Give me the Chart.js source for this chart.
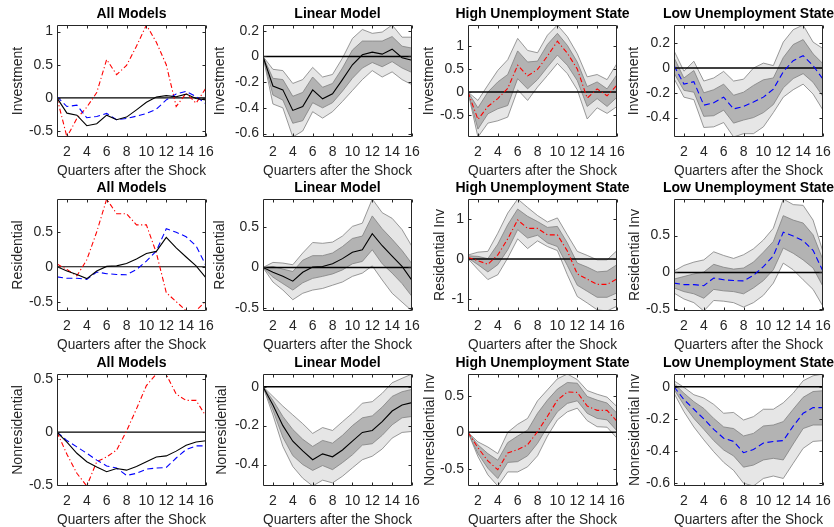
<!DOCTYPE html>
<html>
<head>
<meta charset="utf-8">
<script src="https://cdn.jsdelivr.net/npm/chart.js@4.4.0/dist/chart.umd.min.js"></script>
<style>
  html, body { margin: 0; padding: 0; background: #fff; }
  #fig { position: relative; width: 834px; height: 527px; overflow: hidden; background: #fff; }
  #fig canvas { position: absolute; }
</style>
</head>
<body>
<div id="fig"></div>
<script>
const quarters = [1, 2, 3, 4, 5, 6, 7, 8, 9, 10, 11, 12, 13, 14, 15, 16];
const xTicks = [2, 4, 6, 8, 10, 12, 14, 16];

// Investment
const invLin     = [0, -0.23, -0.26, -0.42, -0.39, -0.26, -0.33, -0.29, -0.18, -0.065, 0.013, 0.034, 0.018, 0.057, -0.01, -0.03];
const invLinUp90 = [0, -0.10, -0.11, -0.21, -0.18, -0.085, -0.16, -0.14, -0.013, 0.14, 0.21, 0.18, 0.19, 0.245, 0.15, 0.15];
const invLinUp68 = [0, -0.17, -0.18, -0.31, -0.28, -0.16, -0.24, -0.21, -0.09, 0.05, 0.12, 0.12, 0.12, 0.155, 0.08, 0.065];
const invLinLo68 = [0, -0.30, -0.34, -0.52, -0.50, -0.36, -0.40, -0.36, -0.27, -0.17, -0.09, -0.047, -0.08, -0.04, -0.09, -0.125];
const invLinLo90 = [0, -0.37, -0.40, -0.627, -0.58, -0.43, -0.48, -0.43, -0.35, -0.265, -0.18, -0.11, -0.16, -0.12, -0.18, -0.22];

const invHigh     = [0, -0.59, -0.31, -0.14, 0.08, 0.58, 0.35, 0.49, 0.78, 1.1, 0.84, 0.50, -0.13, 0.07, -0.08, 0.15];
const invHighUp90 = [0, -0.18, 0.15, 0.47, 0.7, 1.16, 0.9, 0.85, 1.23, 1.45, 1.2, 0.83, 0.33, 0.38, 0.27, 0.62];
const invHighUp68 = [0, -0.34, 0.0, 0.22, 0.38, 0.89, 0.65, 0.67, 1.03, 1.27, 1.01, 0.65, 0.12, 0.22, 0.07, 0.38];
const invHighLo68 = [0, -0.8, -0.47, -0.36, -0.29, 0.29, 0.07, 0.27, 0.54, 0.8, 0.58, 0.25, -0.31, -0.14, -0.31, -0.11];
const invHighLo90 = [0, -0.97, -0.67, -0.62, -0.54, 0.05, -0.18, 0.11, 0.36, 0.62, 0.4, 0.05, -0.58, -0.34, -0.46, -0.31];

const invLow     = [0.02, -0.13, -0.11, -0.30, -0.28, -0.235, -0.33, -0.31, -0.275, -0.235, -0.17, -0.03, 0.06, 0.10, 0.02, -0.09];
const invLowUp90 = [0.14, -0.025, 0.055, -0.105, -0.08, -0.027, -0.105, -0.09, 0, 0.04, 0.02, 0.21, 0.31, 0.348, 0.21, 0.157];
const invLowUp68 = [0.085, -0.08, -0.02, -0.2, -0.175, -0.13, -0.22, -0.195, -0.14, -0.095, -0.08, 0.085, 0.19, 0.23, 0.115, 0.035];
const invLowLo68 = [-0.04, -0.18, -0.195, -0.39, -0.385, -0.34, -0.445, -0.42, -0.4, -0.36, -0.295, -0.16, -0.085, -0.045, -0.115, -0.23];
const invLowLo90 = [-0.085, -0.235, -0.255, -0.48, -0.475, -0.44, -0.557, -0.53, -0.53, -0.475, -0.36, -0.235, -0.175, -0.13, -0.21, -0.34];

// Residential
const resLin     = [0, -0.06, -0.11, -0.17, -0.06, 0.005, 0.013, 0.046, 0.11, 0.19, 0.22, 0.42, 0.27, 0.14, 0.013, -0.16];
const resLinUp90 = [0, 0.063, 0.055, 0.034, 0.18, 0.31, 0.3, 0.315, 0.39, 0.51, 0.55, 0.85, 0.68, 0.61, 0.47, 0.26];
const resLinUp68 = [0, 0.013, -0.02, -0.05, 0.09, 0.147, 0.147, 0.18, 0.26, 0.36, 0.39, 0.64, 0.48, 0.35, 0.21, 0.046];
const resLinLo68 = [0, -0.12, -0.2, -0.28, -0.19, -0.135, -0.11, -0.08, -0.03, 0.046, 0.075, 0.22, 0.046, -0.07, -0.2, -0.36];
const resLinLo90 = [0, -0.18, -0.28, -0.4, -0.32, -0.28, -0.26, -0.22, -0.18, -0.11, -0.07, 0.02, -0.155, -0.32, -0.43, -0.54];

const resHigh     = [0.04, -0.04, -0.13, 0.1, 0.5, 0.97, 0.76, 0.76, 0.6, 0.6, 0.2, -0.37, -0.5, -0.63, -0.63, -0.49];
const resHighUp90 = [0.1, 0.17, 0.19, 0.64, 1.14, 1.49, 1.28, 1.08, 0.92, 1.02, 0.6, 0.19, 0.09, -0.02, -0.02, 0.21];
const resHighUp68 = [0.08, 0.066, 0.01, 0.37, 0.85, 1.24, 1.06, 0.93, 0.785, 0.81, 0.4, -0.1, -0.2, -0.32, -0.3, -0.14];
const resHighLo68 = [0.025, -0.14, -0.32, -0.14, 0.23, 0.73, 0.52, 0.59, 0.4, 0.31, -0.16, -0.65, -0.8, -0.95, -0.95, -0.84];
const resHighLo90 = [0.01, -0.26, -0.51, -0.39, 0.025, 0.5, 0.26, 0.45, 0.31, 0.21, -0.39, -0.93, -1.09, -1.26, -1.29, -1.17];

const resLow     = [-0.145, -0.165, -0.165, -0.18, -0.075, -0.1, -0.11, -0.115, -0.04, 0.08, 0.225, 0.545, 0.495, 0.43, 0.3, 0.015];
const resLowUp90 = [0.02, 0.095, 0.14, 0.17, 0.28, 0.23, 0.19, 0.24, 0.32, 0.44, 0.6, 0.996, 0.92, 0.91, 0.71, 0.28];
const resLowUp68 = [-0.09, -0.055, -0.02, 0.005, 0.11, 0.07, 0.045, 0.06, 0.14, 0.275, 0.42, 0.77, 0.71, 0.67, 0.51, 0.17];
const resLowLo68 = [-0.21, -0.26, -0.29, -0.35, -0.23, -0.25, -0.26, -0.29, -0.21, -0.11, 0.036, 0.33, 0.26, 0.17, 0.06, -0.19];
const resLowLo90 = [-0.28, -0.36, -0.41, -0.523, -0.38, -0.39, -0.41, -0.47, -0.41, -0.31, -0.145, 0.126, 0.036, -0.1, -0.23, -0.46];

// Nonresidential
const nonLin     = [0, -0.094, -0.2, -0.28, -0.33, -0.375, -0.345, -0.36, -0.325, -0.28, -0.235, -0.225, -0.18, -0.125, -0.094, -0.082];
const nonLinUp90 = [0, -0.05, -0.1, -0.145, -0.19, -0.24, -0.21, -0.225, -0.18, -0.136, -0.085, -0.077, -0.034, 0.02, 0.043, 0.065];
const nonLinUp68 = [0, -0.07, -0.153, -0.22, -0.27, -0.307, -0.276, -0.29, -0.25, -0.2, -0.16, -0.15, -0.105, -0.05, -0.026, -0.014];
const nonLinLo68 = [0, -0.12, -0.26, -0.354, -0.4, -0.43, -0.405, -0.426, -0.39, -0.35, -0.3, -0.293, -0.25, -0.196, -0.16, -0.153];
const nonLinLo90 = [0, -0.145, -0.307, -0.41, -0.47, -0.51, -0.48, -0.494, -0.46, -0.417, -0.375, -0.357, -0.32, -0.264, -0.235, -0.23];

const nonHigh     = [0, -0.21, -0.39, -0.51, -0.28, -0.235, -0.17, 0.01, 0.22, 0.44, 0.55, 0.545, 0.36, 0.3, 0.3, 0.15];
const nonHighUp90 = [0, -0.13, -0.2, -0.29, 0, 0.11, 0.19, 0.43, 0.58, 0.73, 0.796, 0.72, 0.57, 0.52, 0.48, 0.35];
const nonHighUp68 = [0, -0.17, -0.29, -0.38, -0.14, -0.05, 0.03, 0.26, 0.44, 0.59, 0.68, 0.67, 0.49, 0.44, 0.4, 0.26];
const nonHighLo68 = [0, -0.29, -0.49, -0.63, -0.41, -0.4, -0.32, -0.15, 0.077, 0.28, 0.395, 0.43, 0.26, 0.19, 0.17, 0.02];
const nonHighLo90 = [0, -0.33, -0.58, -0.732, -0.54, -0.54, -0.47, -0.32, -0.05, 0.17, 0.28, 0.33, 0.16, 0.077, 0.07, -0.08];

const nonLow     = [0, -0.08, -0.14, -0.2, -0.265, -0.32, -0.34, -0.41, -0.39, -0.35, -0.34, -0.335, -0.245, -0.165, -0.13, -0.13];
const nonLowUp90 = [0.037, -0.004, -0.05, -0.07, -0.11, -0.165, -0.16, -0.207, -0.186, -0.14, -0.14, -0.1, -0.04, 0.037, 0.068, 0.079];
const nonLowUp68 = [0.02, -0.04, -0.093, -0.135, -0.197, -0.25, -0.26, -0.306, -0.29, -0.244, -0.238, -0.217, -0.14, -0.066, -0.03, -0.025];
const nonLowLo68 = [-0.016, -0.114, -0.197, -0.265, -0.335, -0.393, -0.43, -0.5, -0.487, -0.455, -0.445, -0.455, -0.356, -0.26, -0.238, -0.238];
const nonLowLo90 = [-0.04, -0.155, -0.25, -0.33, -0.404, -0.47, -0.52, -0.6, -0.617, -0.57, -0.555, -0.57, -0.476, -0.383, -0.34, -0.335];

// y axis limits and ticks, one entry per column (All, Linear, High, Low)
const invLimits = [[-0.59, 1.1], [-0.627, 0.245], [-0.97, 1.45], [-0.557, 0.348]];
const resLimits = [[-0.634, 0.971], [-0.54, 0.85], [-1.29, 1.49], [-0.523, 0.996]];
const nonLimits = [[-0.51, 0.55], [-0.51, 0.065], [-0.732, 0.796], [-0.617, 0.079]];
const invTicks = [[-0.5, 0, 0.5, 1], [-0.6, -0.4, -0.2, 0, 0.2], [-0.5, 0, 0.5, 1], [-0.4, -0.2, 0, 0.2]];
const resTicks = [[-0.5, 0, 0.5], [-0.5, 0, 0.5], [-1, 0, 1], [-0.5, 0, 0.5]];
const nonTicks = [[-0.5, 0, 0.5], [-0.4, -0.2, 0], [-0.5, 0, 0.5], [-0.6, -0.4, -0.2, 0]];

const titles = ['All Models', 'Linear Model', 'High Unemployment State', 'Low Unemployment State'];
const invLabels = ['Investment', 'Investment', 'Investment', 'Investment'];
const resLabels = ['Residential', 'Residential', 'Residential Inv', 'Residential Inv'];
const nonLabels = ['Nonresidential', 'Nonresidential', 'Nonresidential Inv', 'Nonresidential Inv'];

// layout
const colLeft = [57, 263, 468, 674];
const rowTop = [25, 199, 374];
const plotW = 149, plotH = 112;
const yAxisW = 56, titleH = 25, xAxisH = 44;
// distance from plot left edge to y-label centre
const yLabelGap = [[39.2, 42.6, 39.3, 40], [39.2, 42.6, 28.3, 38.6], [39.2, 40.8, 37.6, 38.6]];

const styles = {
  lin:  { color: '#000000', dash: [] },
  high: { color: '#ff0000', dash: [5, 2.5, 1.2, 2.5] },
  low:  { color: '#0000ff', dash: [6, 3.5] }
};
const lightBand = '#e6e6e6', darkBand = '#b3b3b3', bandEdge = '#808080';

Chart.defaults.font.family = '"Liberation Sans", Arial, Helvetica, sans-serif';
Chart.defaults.font.size = 14;
Chart.defaults.color = '#262626';

const matlabBox = {
  id: 'matlabBox',
  afterDraw(chart) {
    const { ctx, chartArea: a, scales } = chart;
    const x = scales.x, y = scales.y;
    const L = Math.round(a.left) + 0.5, R = Math.round(a.right) - 0.5;
    const T = Math.round(a.top) + 0.5, B = Math.round(a.bottom) - 0.5;
    const tl = 3;
    ctx.save();
    ctx.strokeStyle = '#262626';
    ctx.lineWidth = 1;
    ctx.beginPath();
    ctx.rect(L, T, R - L, B - T);
    x.ticks.forEach(t => {
      const px = Math.round(x.getPixelForValue(t.value)) + 0.5;
      ctx.moveTo(px, B); ctx.lineTo(px, B - tl);
      ctx.moveTo(px, T); ctx.lineTo(px, T + tl);
    });
    y.ticks.forEach(t => {
      const py = Math.round(y.getPixelForValue(t.value)) + 0.5;
      ctx.moveTo(L, py); ctx.lineTo(L + tl, py);
      ctx.moveTo(R, py); ctx.lineTo(R - tl, py);
    });
    ctx.stroke();
    ctx.restore();
  }
};

function pts(arr) {
  return quarters.map((q, i) => ({ x: q, y: arr[i] }));
}

function lineDs(arr, st, width, order) {
  return { data: pts(arr), borderColor: st.color, borderDash: st.dash, borderWidth: width, fill: false, order };
}

function zeroDs(width) {
  return { data: [{ x: quarters[0], y: 0 }, { x: quarters[quarters.length - 1], y: 0 }],
           borderColor: '#000', borderWidth: width, fill: false, order: 2 };
}

function bandDs(up90, up68, lo68, lo90) {
  return [
    { data: pts(up90), borderColor: bandEdge, borderWidth: 0.8, backgroundColor: lightBand, fill: '+1', order: 6 },
    { data: pts(lo90), borderColor: bandEdge, borderWidth: 0.8, fill: false, order: 5 },
    { data: pts(up68), borderColor: bandEdge, borderWidth: 0.8, backgroundColor: darkBand, fill: '+1', order: 4 },
    { data: pts(lo68), borderColor: bandEdge, borderWidth: 0.8, fill: false, order: 3 }
  ];
}

const fig = document.getElementById('fig');

function makePanel(row, col, datasets, limits, ticks, ylabel) {
  const canvas = document.createElement('canvas');
  const w = yAxisW * 2 + plotW, h = titleH + plotH + xAxisH;
  canvas.width = w; canvas.height = h;
  canvas.style.width = w + 'px'; canvas.style.height = h + 'px';
  canvas.style.left = (colLeft[col] - yAxisW) + 'px';
  canvas.style.top = (rowTop[row] - titleH) + 'px';
  fig.appendChild(canvas);

  new Chart(canvas, {
    type: 'line',
    data: { datasets },
    options: {
      responsive: false,
      animation: false,
      events: [],
      layout: { padding: 0 },
      elements: { point: { radius: 0 }, line: { tension: 0 } },
      plugins: {
        legend: { display: false },
        tooltip: { enabled: false },
        title: { display: true, text: titles[col], color: '#000', font: { size: 14, weight: 'bold' },
                 padding: { top: 5.6, bottom: 2.6 } }
      },
      scales: {
        x: {
          type: 'linear', min: 1, max: 16,
          grid: { display: false, drawTicks: false }, border: { display: false },
          ticks: { autoSkip: false, maxRotation: 0, padding: 6.6, color: '#262626', callback: v => String(v) },
          afterBuildTicks: s => { s.ticks = xTicks.map(v => ({ value: v })); },
          afterFit: s => { s.height = xAxisH; },
          title: { display: true, text: 'Quarters after the Shock', color: '#262626', padding: { top: 0, bottom: 1.6 } }
        },
        y: {
          type: 'linear', min: limits[0], max: limits[1],
          grid: { display: false, drawTicks: false }, border: { display: false },
          ticks: { padding: 4, color: '#262626', callback: v => String(v) },
          afterBuildTicks: s => { s.ticks = ticks.map(v => ({ value: v })); },
          afterFit: s => { s.width = yAxisW; },
          title: { display: true, text: ylabel, color: '#262626',
                   padding: { top: yAxisW - 8.4 - yLabelGap[row][col], bottom: 0 } }
        },
        yR: {
          position: 'right', display: true,
          grid: { display: false, drawTicks: false }, border: { display: false },
          ticks: { display: false },
          afterFit: s => { s.width = yAxisW; }
        }
      }
    },
    plugins: [matlabBox]
  });
}

const rows = [
  { lin: invLin, high: invHigh, low: invLow,
    bands: { lin: [invLinUp90, invLinUp68, invLinLo68, invLinLo90],
             high: [invHighUp90, invHighUp68, invHighLo68, invHighLo90],
             low: [invLowUp90, invLowUp68, invLowLo68, invLowLo90] },
    limits: invLimits, ticks: invTicks, labels: invLabels },
  { lin: resLin, high: resHigh, low: resLow,
    bands: { lin: [resLinUp90, resLinUp68, resLinLo68, resLinLo90],
             high: [resHighUp90, resHighUp68, resHighLo68, resHighLo90],
             low: [resLowUp90, resLowUp68, resLowLo68, resLowLo90] },
    limits: resLimits, ticks: resTicks, labels: resLabels },
  { lin: nonLin, high: nonHigh, low: nonLow,
    bands: { lin: [nonLinUp90, nonLinUp68, nonLinLo68, nonLinLo90],
             high: [nonHighUp90, nonHighUp68, nonHighLo68, nonHighLo90],
             low: [nonLowUp90, nonLowUp68, nonLowLo68, nonLowLo90] },
    limits: nonLimits, ticks: nonTicks, labels: nonLabels }
];

rows.forEach((r, ri) => {
  // all models
  makePanel(ri, 0, [
    zeroDs(1.1),
    lineDs(r.lin, styles.lin, 1.1, 1),
    lineDs(r.low, styles.low, 1.1, 1),
    lineDs(r.high, styles.high, 1.1, 1)
  ], r.limits[0], r.ticks[0], r.labels[0]);

  ['lin', 'high', 'low'].forEach((k, i) => {
    const b = r.bands[k];
    makePanel(ri, i + 1, [
      ...bandDs(b[0], b[1], b[2], b[3]),
      zeroDs(1.5),
      lineDs(r[k], styles[k], 1.1, 1)
    ], r.limits[i + 1], r.ticks[i + 1], r.labels[i + 1]);
  });
});
</script>
</body>
</html>
